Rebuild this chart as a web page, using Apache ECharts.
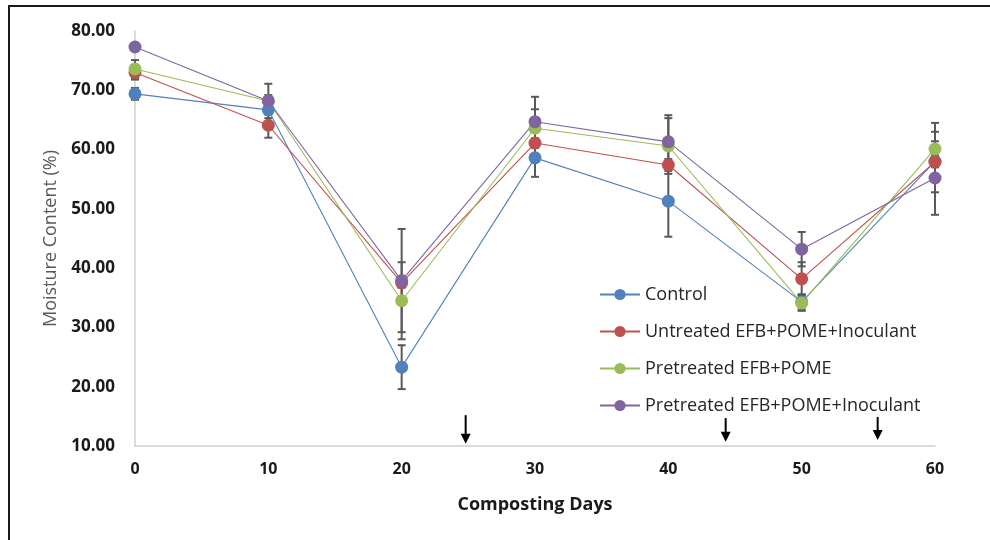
<!DOCTYPE html>
<html>
<head>
<meta charset="utf-8">
<script src="https://cdn.jsdelivr.net/npm/echarts@6/dist/echarts.min.js"></script>
<style>
  html, body { margin: 0; padding: 0; background: #fff; }
  #chart { width: 990px; height: 540px; }
</style>
</head>
<body>
<div id="chart"></div>
<script>
  // composting days and moisture content (%)
  const days = [0, 10, 20, 30, 40, 50, 60];
  const control = [69.4, 66.7, 23.3, 58.6, 51.3, 34.3, 58.0];
  const untreated = [73.0, 64.1, 37.5, 61.1, 57.4, 38.2, 57.9];
  const pretreated = [73.6, 68.2, 34.5, 63.6, 60.6, 34.1, 60.1];
  const pretreatedInoc = [77.3, 68.2, 37.9, 64.7, 61.3, 43.2, 55.2];

  // standard deviations (error bars)
  const controlErr = [1.0, 0.8, 3.7, 3.2, 6.0, 1.3, 1.0];
  const untreatedErr = [1.2, 2.1, 0.8, 0.8, 1.0, 2.8, 5.1];
  const pretreatedErr = [1.5, 2.9, 6.5, 3.2, 4.7, 1.3, 4.4];
  const pretreatedInocErr = [0.5, 1.0, 8.7, 4.2, 4.5, 2.9, 6.2];

  const seriesNames = ['Control', 'Untreated EFB+POME+Inoculant', 'Pretreated EFB+POME', 'Pretreated EFB+POME+Inoculant'];
  const colors = ['#4F81BD', '#C0504D', '#9BBB59', '#8064A2'];
  const yTicks = [10, 20, 30, 40, 50, 60, 70, 80];

  // arrows: day, start value, tip value
  const arrows = [[24.8, 15.2, 10.4], [44.3, 14.7, 10.7], [55.7, 14.9, 11.0]];

  const values = [control, untreated, pretreated, pretreatedInoc];
  const errs = [controlErr, untreatedErr, pretreatedErr, pretreatedInocErr];

  const myChart = echarts.init(document.getElementById('chart'));

  function errorBar (params, api) {
    const x = api.value(0);
    const top = api.coord([x, api.value(2)]);
    const bot = api.coord([x, api.value(1)]);
    const half = 4;
    const style = { stroke: '#595959', lineWidth: 2 };
    return {
      type: 'group',
      children: [
        { type: 'line', shape: { x1: top[0], y1: top[1], x2: bot[0], y2: bot[1] }, style: style },
        { type: 'line', shape: { x1: top[0] - half, y1: top[1], x2: top[0] + half, y2: top[1] }, style: style },
        { type: 'line', shape: { x1: bot[0] - half, y1: bot[1], x2: bot[0] + half, y2: bot[1] }, style: style }
      ]
    };
  }

  function arrow (params, api) {
    const x = api.value(0);
    const start = api.coord([x, api.value(1)]);
    const tip = api.coord([x, api.value(2)]);
    return {
      type: 'group',
      children: [
        { type: 'line', shape: { x1: start[0], y1: start[1], x2: tip[0], y2: tip[1] - 8 }, style: { stroke: '#000', lineWidth: 2 } },
        { type: 'polygon', shape: { points: [[tip[0] - 5, tip[1] - 10], [tip[0] + 5, tip[1] - 10], [tip[0], tip[1]]] }, style: { fill: '#000' } }
      ]
    };
  }

  const series = [];
  values.forEach(function (vals, i) {
    series.push({
      name: seriesNames[i] + ' err',
      type: 'custom',
      renderItem: errorBar,
      z: 1,
      data: days.map(function (d, j) { return [d, vals[j] - errs[i][j], vals[j] + errs[i][j]]; })
    });
  });
  values.forEach(function (vals, i) {
    series.push({
      name: seriesNames[i],
      type: 'line',
      z: 2,
      symbol: 'circle',
      symbolSize: 13,
      color: colors[i],
      lineStyle: { width: 1.1, color: colors[i] },
      itemStyle: { color: colors[i] },
      data: days.map(function (d, j) { return [d, vals[j]]; })
    });
  });
  series.push({
    name: 'arrows',
    type: 'custom',
    renderItem: arrow,
    z: 3,
    data: arrows
  });

  const option = {
    animation: false,
    backgroundColor: '#fff',
    graphic: [{
      type: 'rect',
      shape: { x: 9, y: 6, width: 1000, height: 560 },
      style: { fill: 'none', stroke: '#1a1a1a', lineWidth: 2 }
    }],
    grid: { left: 135, right: 55, top: 31, bottom: 94 },
    legend: {
      data: seriesNames,
      orient: 'vertical',
      left: 594,
      top: 280,
      itemWidth: 40,
      itemHeight: 14,
      itemGap: 18,
      textStyle: { fontFamily: 'Open Sans', fontSize: 18, color: '#262626', lineHeight: 19 }
    },
    xAxis: {
      type: 'value',
      min: 0,
      max: 60,
      interval: 10,
      name: 'Composting Days',
      nameLocation: 'middle',
      nameGap: 50,
      nameTextStyle: { fontFamily: 'Open Sans', fontWeight: 'bold', fontSize: 18, color: '#1a1a1a' },
      axisLine: { lineStyle: { color: '#d0d0d0', width: 1.5 } },
      axisTick: { show: false },
      splitLine: { show: false },
      axisLabel: { margin: 15, fontFamily: 'Open Sans', fontWeight: 'bold', fontSize: 16, color: '#1a1a1a' }
    },
    yAxis: {
      type: 'value',
      min: 10,
      max: 80,
      interval: 10,
      name: 'Moisture Content (%)',
      nameLocation: 'middle',
      nameGap: 72,
      nameTextStyle: { fontFamily: 'Open Sans', fontSize: 18, color: '#595959' },
      axisLine: { show: true, lineStyle: { color: '#d0d0d0', width: 1.5 } },
      axisTick: { show: false },
      splitLine: { show: false },
      axisLabel: {
        margin: 20,
        fontFamily: 'Open Sans',
        fontWeight: 'bold',
        fontSize: 17,
        color: '#1a1a1a',
        formatter: function (v) { return yTicks.indexOf(v) >= 0 ? v.toFixed(2) : ''; }
      }
    },
    series: series
  };
  myChart.setOption(option);
</script>
</body>
</html>
